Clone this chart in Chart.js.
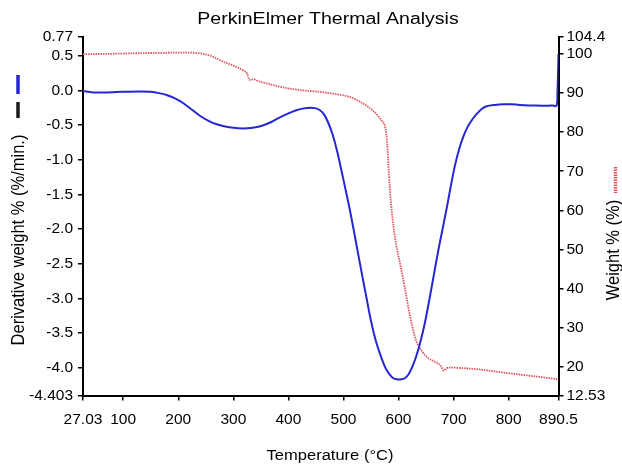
<!DOCTYPE html>
<html>
<head>
<meta charset="utf-8">
<script src="https://cdn.jsdelivr.net/npm/chart.js@4.4.1/dist/chart.umd.min.js"></script>
<style>
  html, body { margin: 0; padding: 0; background: #fff; }
  #wrap { width: 622px; height: 465px; position: relative; }
</style>
</head>
<body>
<div id="wrap"><canvas id="chart"></canvas></div>
<script>
// derivative weight curve (left axis)
const derivTemps = [27.03, 45, 70, 100, 130, 150, 165, 180, 195, 210, 225, 240, 255, 270, 285, 300, 317, 335, 352, 368, 382, 398, 413, 428, 440, 450, 458, 465, 472, 480, 488, 497, 504, 511, 518, 526, 534, 542, 548, 555, 562, 569, 576, 583, 590, 597, 605, 612, 618, 625, 632, 640, 648, 656, 664, 672, 680, 688, 695, 702, 710, 718, 726, 734, 742, 751, 760, 775, 790, 805, 820, 850, 880, 887, 888.5, 890.5];
const derivValues = [-0.01, -0.03, -0.03, -0.02, -0.015, -0.02, -0.04, -0.07, -0.12, -0.19, -0.28, -0.37, -0.44, -0.49, -0.52, -0.54, -0.55, -0.54, -0.51, -0.46, -0.40, -0.34, -0.29, -0.26, -0.25, -0.26, -0.29, -0.35, -0.46, -0.63, -0.86, -1.18, -1.44, -1.70, -1.99, -2.33, -2.67, -3.00, -3.25, -3.50, -3.70, -3.86, -4.00, -4.09, -4.15, -4.17, -4.17, -4.15, -4.10, -3.99, -3.84, -3.62, -3.35, -3.02, -2.67, -2.32, -2.00, -1.68, -1.38, -1.10, -0.85, -0.66, -0.52, -0.42, -0.34, -0.27, -0.23, -0.21, -0.20, -0.20, -0.21, -0.22, -0.22, -0.22, -0.05, 0.52];

// weight % curve (right axis)
const weightTemps = [27.03, 80, 150, 215, 245, 262, 279, 292, 306, 318, 325, 329, 332, 337, 345, 361, 380, 397, 421, 452, 480, 510, 530, 553, 565, 571, 575, 579, 584, 589, 596, 604, 611, 618, 625, 632, 643, 654, 664, 672, 677, 682, 687, 694, 710, 747, 790, 820, 850, 887, 890.5];
const weightValues = [100.0, 100.1, 100.3, 100.4, 100.1, 99.4, 98.2, 97.5, 96.7, 95.8, 95.0, 93.5, 93.4, 93.6, 93.1, 92.5, 91.8, 91.3, 90.8, 90.4, 89.9, 89.1, 87.8, 85.6, 83.8, 82.6, 81.8, 77.9, 66.0, 58.0, 51.0, 45.5, 40.5, 35.0, 30.2, 26.6, 23.8, 22.1, 21.3, 20.7, 20.1, 18.9, 19.5, 19.7, 19.6, 19.2, 18.4, 17.9, 17.4, 16.7, 16.6];

// axis ticks
const xTicks = [27.03, 100, 200, 300, 400, 500, 600, 700, 800, 890.5];
const xTickLabels = ["27.03", "100", "200", "300", "400", "500", "600", "700", "800", "890.5"];
const derivTicks = [-4.403, -4.0, -3.5, -3.0, -2.5, -2.0, -1.5, -1.0, -0.5, 0.0, 0.5, 0.77];
const derivTickLabels = ["-4.403", "-4.0", "-3.5", "-3.0", "-2.5", "-2.0", "-1.5", "-1.0", "-0.5", "0.0", "0.5", "0.77"];
const weightTicks = [12.53, 20, 30, 40, 50, 60, 70, 80, 90, 100, 104.4];
const weightTickLabels = ["12.53", "20", "30", "40", "50", "60", "70", "80", "90", "100", "104.4"];

const FONT = "'Liberation Sans', Arial, Helvetica, sans-serif";
const BLUE = "#2626d2";
const RED = "#e2545e";

function pts(xs, ys){
  return xs.map((x,i)=>({x, y: ys[i]}));
}

function axisGrid(){
  return { display: true, drawOnChartArea: false, drawTicks: true, tickLength: 5, color: "#000", lineWidth: 1.5 };
}

// text drawn a little wider than the font, like the source image
function wideText(ctx, txt, x, y, angle, stretch){
  ctx.save();
  ctx.translate(x, y);
  if (angle) ctx.rotate(angle);
  if (angle) ctx.scale(1, stretch); else ctx.scale(stretch, 1);
  ctx.fillText(txt, 0, 0);
  ctx.restore();
}

// title, axis titles and the little legend marks
const decor = {
  id: "decor",
  afterDraw(chart){
    const {ctx} = chart;
    ctx.save();
    ctx.fillStyle = "#000";
    ctx.textAlign = "center";
    ctx.textBaseline = "alphabetic";
    ctx.font = "16px " + FONT;
    wideText(ctx, "PerkinElmer Thermal Analysis", 328, 24, 0, 1.22);

    ctx.font = "14px " + FONT;
    wideText(ctx, "Temperature (°C)", 330, 459.5, 0, 1.18);

    ctx.textBaseline = "middle";
    ctx.font = "16.5px " + FONT;
    wideText(ctx, "Derivative weight % (%/min.)", 18.5, 240, -Math.PI/2, 1.15);
    wideText(ctx, "Weight % (%)", 614, 250, -Math.PI/2, 1.15);

    // legend marks
    ctx.lineWidth = 3.5;
    ctx.strokeStyle = BLUE;
    ctx.beginPath(); ctx.moveTo(18, 75); ctx.lineTo(18, 94); ctx.stroke();
    ctx.strokeStyle = "#1a1a1a";
    ctx.beginPath(); ctx.moveTo(18, 102); ctx.lineTo(18, 118); ctx.stroke();
    ctx.strokeStyle = RED;
    ctx.setLineDash([1.5, 1]);
    ctx.beginPath(); ctx.moveTo(615.5, 167); ctx.lineTo(615.5, 193); ctx.stroke();
    ctx.restore();
  }
};

new Chart(document.getElementById("chart"), {
  type: "line",
  data: {
    datasets: [
      {
        label: "Derivative weight %",
        data: pts(derivTemps, derivValues),
        yAxisID: "yDeriv",
        borderColor: BLUE,
        borderWidth: 2,
        pointRadius: 0,
        tension: 0.3,
        fill: false
      },
      {
        label: "Weight %",
        data: pts(weightTemps, weightValues),
        yAxisID: "yWeight",
        borderColor: RED,
        borderWidth: 1.8,
        borderDash: [1.5, 1],
        pointRadius: 0,
        cubicInterpolationMode: "monotone",
        fill: false
      }
    ]
  },
  plugins: [decor],
  options: {
    responsive: true,
    maintainAspectRatio: false,
    animation: false,
    layout: { padding: { top: 37, left: 0, right: 0, bottom: 0 } },
    plugins: { legend: { display: false }, tooltip: { enabled: false } },
    scales: {
      x: {
        type: "linear",
        min: 27.03, max: 890.5,
        grid: axisGrid(),
        border: { display: true, color: "#000", width: 2 },
        afterBuildTicks: s => { s.ticks = xTicks.map(v=>({value: v})); },
        afterFit: s => { s.height = 69.5; },
        ticks: {
          color: "#000", padding: 10, maxRotation: 0, autoSkip: false,
          font: { family: FONT, size: 15.5 },
          callback: (v, i) => xTickLabels[i]
        }
      },
      yDeriv: {
        type: "linear", position: "left",
        min: -4.403, max: 0.77,
        grid: axisGrid(),
        border: { display: true, color: "#000", width: 2 },
        afterBuildTicks: s => { s.ticks = derivTicks.map(v=>({value: v})); },
        afterFit: s => { s.width = 83; },
        ticks: {
          color: "#000", padding: 5, autoSkip: false,
          font: { family: FONT, size: 15.5 },
          callback: (v, i) => derivTickLabels[i]
        }
      },
      yWeight: {
        type: "linear", position: "right",
        min: 12.53, max: 104.4,
        grid: axisGrid(),
        border: { display: true, color: "#000", width: 2 },
        afterBuildTicks: s => { s.ticks = weightTicks.map(v=>({value: v})); },
        afterFit: s => { s.width = 63.5; },
        ticks: {
          color: "#000", padding: 3, autoSkip: false,
          font: { family: FONT, size: 15.5 },
          callback: (v, i) => weightTickLabels[i]
        }
      }
    }
  }
});
</script>
</body>
</html>
